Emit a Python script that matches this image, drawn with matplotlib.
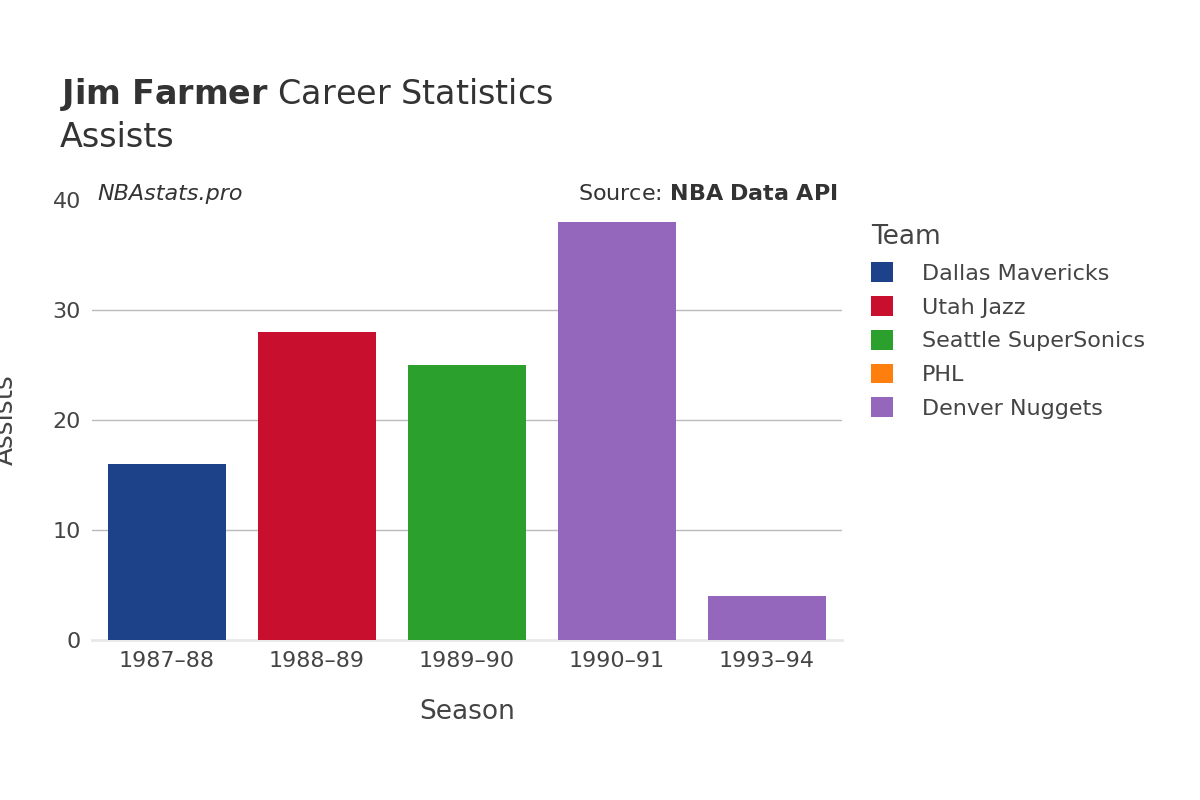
import matplotlib
matplotlib.use("Agg")
import matplotlib.pyplot as plt
from matplotlib.patches import Patch

seasons = ["1987–88", "1988–89", "1989–90", "1990–91", "1993–94"]
assists = [16, 28, 25, 38, 4]
bar_teams = ["Dallas Mavericks", "Utah Jazz", "Seattle SuperSonics", "Denver Nuggets", "Denver Nuggets"]
legend_teams = ["Dallas Mavericks", "Utah Jazz", "Seattle SuperSonics", "PHL", "Denver Nuggets"]
team_colors = {"Dallas Mavericks": "#1d428a", "Utah Jazz": "#c8102e",
               "Seattle SuperSonics": "#2ca02c", "PHL": "#ff7f0e",
               "Denver Nuggets": "#9467bd"}
yticks = [0, 10, 20, 30, 40]

plt.rcParams["font.family"] = "DejaVu Sans"
fig = plt.figure(figsize=(12, 8), dpi=100)
ax = fig.add_axes([0.0767, 0.2, 0.625, 0.55])
x = range(len(seasons))
ax.bar(x, assists, width=0.79, color=[team_colors[t] for t in bar_teams], zorder=3)
ax.set_xlim(-0.5, len(seasons) - 0.5)
ax.set_ylim(0, 40)
ax.set_yticks(yticks)
ax.set_xticks(list(x))
ax.set_xticklabels(seasons)
ax.tick_params(axis="both", length=0, labelsize=16, colors="#444444", pad=8)
for v in yticks[1:-1]:
    ax.axhline(v, color="#bbbbbb", linewidth=1, zorder=0)
for s in ["top", "right", "left"]:
    ax.spines[s].set_visible(False)
ax.spines["bottom"].set_color("#e8e8e8")
ax.spines["bottom"].set_linewidth(2)
ax.set_xlabel("Season", fontsize=19, color="#444444", labelpad=20)
ax.set_ylabel("Assists", fontsize=19, color="#444444")
ax.yaxis.set_label_coords(-0.097, 0.5)

fig.text(0.05, 0.87, r"$\bf{Jim\ Farmer}$ Career Statistics", fontsize=24, color="#333333")
fig.text(0.05, 0.816, "Assists", fontsize=24, color="#333333")
fig.text(0.081, 0.75, "NBAstats.pro", fontsize=16, style="italic", color="#333333")
fig.text(0.698, 0.75, r"Source: $\bf{NBA\ Data\ API}$", fontsize=16, color="#333333", ha="right")

handles = [Patch(facecolor=team_colors[t], label=t) for t in legend_teams]
leg = fig.legend(handles=handles, loc="upper left", bbox_to_anchor=(0.709, 0.745),
                 frameon=False, fontsize=16, title="Team", title_fontsize=19,
                 handlelength=1.0, handleheight=1.0, labelspacing=0.55, handletextpad=1.3)
leg._legend_box.align = "left"
for t in leg.get_texts():
    t.set_color("#444444")
leg.get_title().set_color("#444444")

fig.savefig("out.png")
